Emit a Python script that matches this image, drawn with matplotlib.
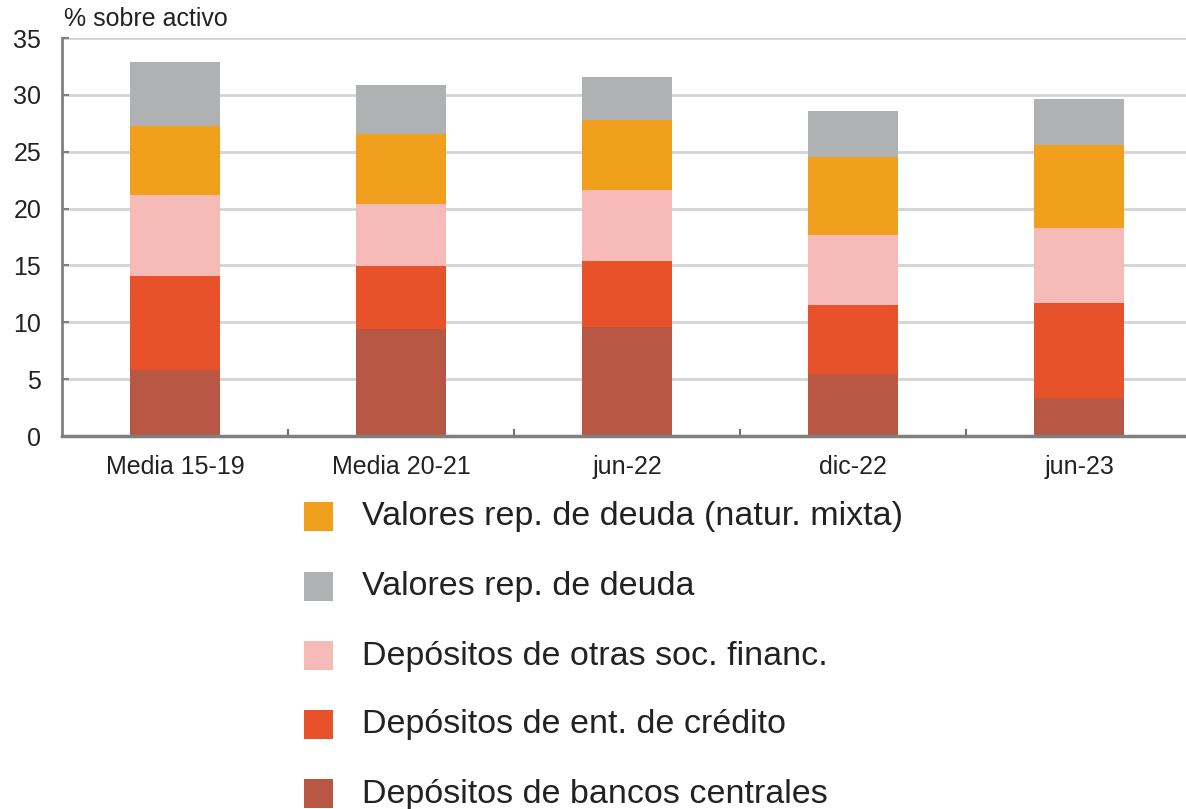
import matplotlib
matplotlib.use("Agg")
import matplotlib.pyplot as plt
from matplotlib.patches import Rectangle
import numpy as np

plt.rcParams['font.family'] = ['Liberation Sans', 'DejaVu Sans']

# datos (% sobre activo)
categorias = ['Media 15-19', 'Media 20-21', 'jun-22', 'dic-22', 'jun-23']
bancos_centrales = [5.81, 9.39, 9.57, 5.43, 3.38]
ent_credito = [8.22, 5.55, 5.78, 6.05, 8.33]
otras_soc_financ = [7.16, 5.48, 6.30, 6.21, 6.55]
valores_mixta = [6.05, 6.16, 6.17, 6.84, 7.33]
valores_deuda = [5.63, 4.27, 3.73, 4.08, 4.02]

# orden de apilado (de abajo a arriba)
series = [
    ('Depósitos de bancos centrales', bancos_centrales, '#b95745'),
    ('Depósitos de ent. de crédito', ent_credito, '#e8522a'),
    ('Depósitos de otras soc. financ.', otras_soc_financ, '#f6bbb7'),
    ('Valores rep. de deuda (natur. mixta)', valores_mixta, '#f0a01c'),
    ('Valores rep. de deuda', valores_deuda, '#b0b1b3'),
]
orden_leyenda = [3, 4, 2, 1, 0]

W, H = 1186, 809
fig = plt.figure(figsize=(W / 100, H / 100), dpi=100)
ax = fig.add_axes([62 / W, (H - 436) / H, (1192 - 62) / W, 398 / H])

x = np.arange(len(categorias))
base = np.zeros(len(categorias))
for nombre, vals, col in series:
    ax.bar(x, vals, 0.4, bottom=base, color=col, edgecolor='none', zorder=3)
    base = base + np.array(vals)

ax.set_xlim(-0.5, 4.5)
ax.set_ylim(0, 35)
ax.set_yticks(np.arange(0, 36, 5))
ax.yaxis.grid(True, color='#d4d4d4', linewidth=2, zorder=0)
ax.set_xticks(x)
ax.set_xticklabels(categorias)
ax.set_xticks(x[:-1] + 0.5, minor=True)
ax.tick_params(axis='x', which='major', length=0, labelsize=18, pad=14, colors='#222222')
ax.tick_params(axis='x', which='minor', direction='in', length=5, width=1.5, color='#707070')
ax.tick_params(axis='y', direction='in', length=5, width=1.5, color='#808080',
               labelsize=18, pad=15, labelcolor='#222222')
for s in ['top', 'right']:
    ax.spines[s].set_visible(False)
ax.spines['left'].set_color('#808080')
ax.spines['left'].set_linewidth(2)
ax.spines['bottom'].set_color('#808080')
ax.spines['bottom'].set_linewidth(2.5)
ax.spines['bottom'].set_zorder(4)

fig.text(64 / W, 1 - 19 / H, '% sobre activo', fontsize=18, va='center', ha='left', color='#222222')

# leyenda manual
ys = [517, 587, 656, 725, 794]
for yc, i in zip(ys, orden_leyenda):
    nombre, vals, col = series[i]
    fig.add_artist(Rectangle((304 / W, 1 - (yc + 14) / H), 29 / W, 29 / H,
                             transform=fig.transFigure, color=col, lw=0))
    fig.text(362 / W, 1 - yc / H, nombre, fontsize=24.5, va='center', ha='left', color='#222222')

fig.savefig('out.png', dpi=100)
